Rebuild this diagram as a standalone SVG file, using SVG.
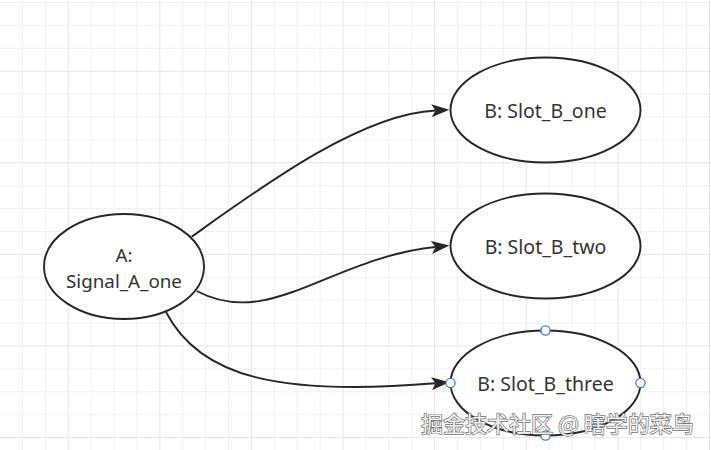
<svg xmlns="http://www.w3.org/2000/svg" width="711" height="450" viewBox="0 0 711 450">
  <style>
    .node ellipse { fill: #ffffff; stroke: #262626; stroke-width: 1.9; }
    .label { font-family: "Noto Sans", "Open Sans", "Liberation Sans", sans-serif; font-size: 19.5px; fill: #333333; text-anchor: middle; }
    .label.small { font-size: 18.8px; }
    .edge { fill: none; stroke: #262626; stroke-width: 1.9; marker-end: url(#arrow); }
    .handle { fill: #ffffff; stroke: #2f7fe4; stroke-width: 1.3; }
    .minor { stroke: #f0f0f0; stroke-width: 1; }
    .major { stroke: #e6e6e6; stroke-width: 1; }
    .wm { font-family: "Noto Sans CJK SC", "Noto Sans", sans-serif; font-size: 22px; fill: #f2f2f2; stroke: #707070; stroke-width: 1.4; paint-order: stroke; }
  </style>
  <defs>
    <pattern id="grid" patternUnits="userSpaceOnUse" x="-1" y="2" width="91.6" height="91.6">
      <rect width="91.6" height="91.6" fill="#ffffff"/>
      <path class="minor" d="M0.5,0V91.6M23.4,0V91.6M46.3,0V91.6M0,0.5H91.6M0,23.4H91.6M0,46.3H91.6"/>
      <path class="major" d="M69.2,0V91.6M0,69.2H91.6"/>
    </pattern>
    <marker id="arrow" viewBox="0 0 18 13" refX="4" refY="6.5" markerWidth="18" markerHeight="13" markerUnits="userSpaceOnUse" orient="auto">
      <path d="M0,0 L18,6.5 L0,13 L4,6.5 Z" fill="#262626"/>
    </marker>
  </defs>
  <rect x="0" y="0" width="711" height="450" fill="url(#grid)"/>

  <g id="connectors">
    <path class="edge" d="M191.7,236.7 C260,188 360,114 435.5,110.5"/>
    <path class="edge" d="M196.7,291 C270,330 330,258 435.5,247"/>
    <path class="edge" d="M166,312 C200,378 280,396 435.5,383.3"/>
  </g>

  <g id="node-a" class="node">
    <ellipse cx="124" cy="266.5" rx="80" ry="52.5"/>
    <text class="label small" x="124" y="261.8">A:</text>
    <text class="label small" x="124" y="287.6">Signal_A_one</text>
  </g>
  <g id="node-b-one" class="node">
    <ellipse cx="545.5" cy="110" rx="95" ry="52.5"/>
    <text class="label" x="545.5" y="117.5">B: Slot_B_one</text>
  </g>
  <g id="node-b-two" class="node">
    <ellipse cx="545.5" cy="246" rx="95" ry="52.5"/>
    <text class="label" x="545.5" y="254">B: Slot_B_two</text>
  </g>
  <g id="node-b-three" class="node">
    <ellipse cx="545.5" cy="383" rx="95" ry="52.5"/>
    <text class="label" x="545.5" y="391">B: Slot_B_three</text>
  </g>

  <g id="selection-handles">
    <circle class="handle" cx="545.5" cy="330.5" r="4.6"/>
    <circle class="handle" cx="450.5" cy="383" r="4.6"/>
    <circle class="handle" cx="640.5" cy="383" r="4.6"/>
    <circle class="handle" cx="545.5" cy="435.5" r="4.6"/>
  </g>

  <text class="wm" x="421" y="432">掘金技术社区 @ 瞎学的菜鸟</text>
</svg>
